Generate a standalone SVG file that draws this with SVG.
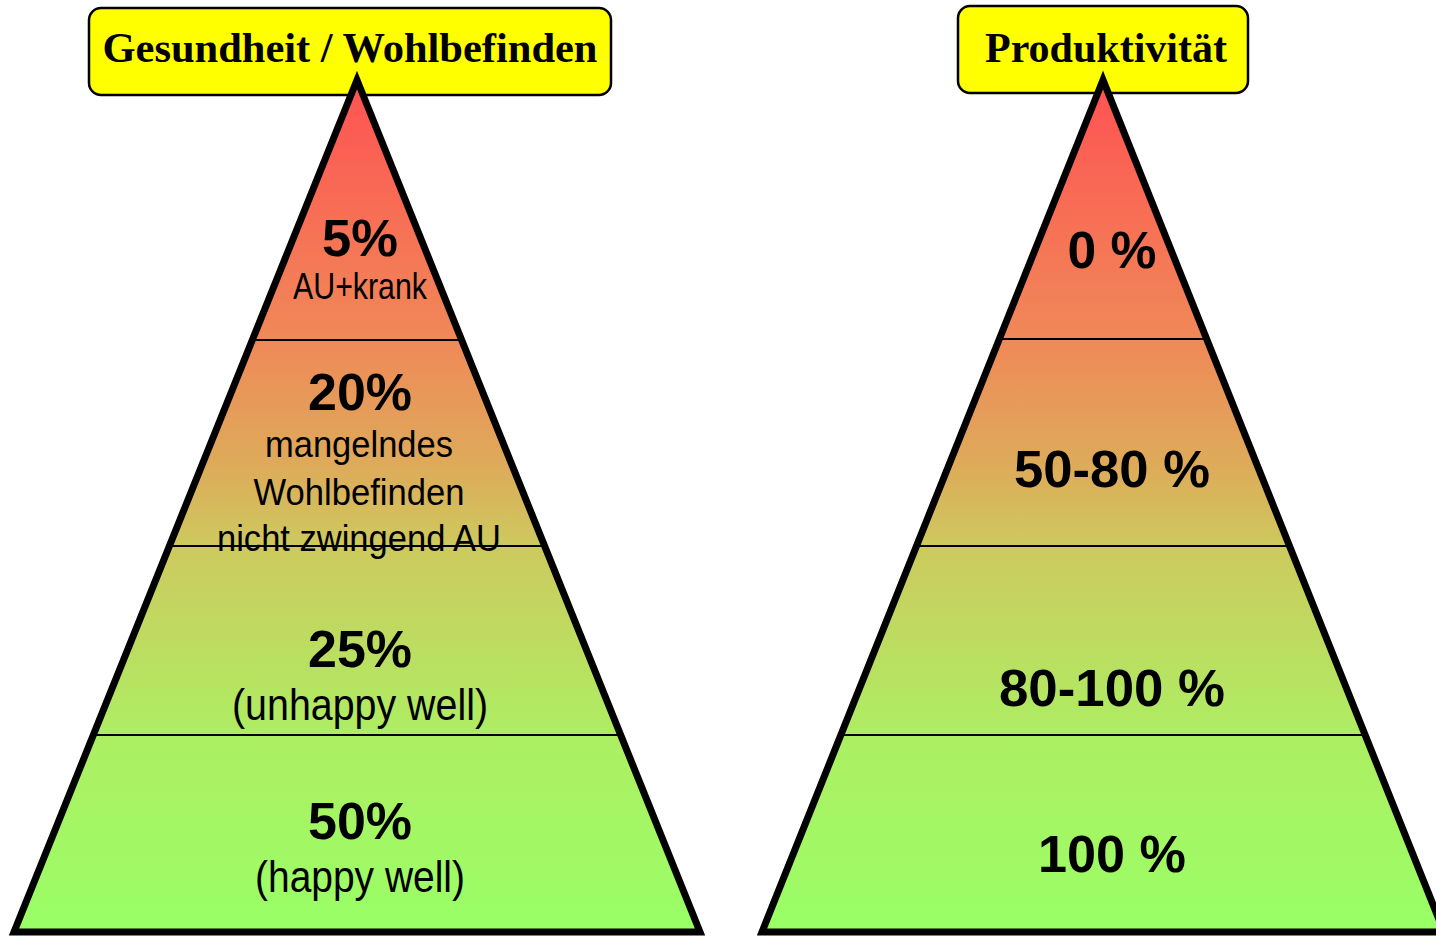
<svg xmlns="http://www.w3.org/2000/svg" width="1436" height="936" viewBox="0 0 1436 936">
<defs>
<linearGradient id="grad" gradientUnits="userSpaceOnUse" x1="0" y1="80" x2="0" y2="932">
<stop offset="0" stop-color="#FF5252"/>
<stop offset="0.3" stop-color="#F08858"/>
<stop offset="0.45" stop-color="#DEAA5A"/>
<stop offset="0.55" stop-color="#CDCA5E"/>
<stop offset="0.77" stop-color="#ADEE63"/>
<stop offset="1" stop-color="#99FF66"/>
</linearGradient>
<clipPath id="clipL"><polygon points="357,80 14,932 700,932"/></clipPath>
<clipPath id="clipR"><polygon points="1103,80 762,932 1444,932"/></clipPath>
<style>
.box{fill:#FFFF00;stroke:#000;stroke-width:2.5}
.title{font-family:"Liberation Serif","Times New Roman",serif;font-weight:bold;font-size:42px;text-anchor:middle;fill:#000}
.pyr{fill:url(#grad)}
.edge{fill:none;stroke:#000;stroke-width:7;stroke-linejoin:miter;stroke-miterlimit:10}
.div{stroke:#000;stroke-width:2.2}
.big{font-family:"Liberation Sans",Arial,sans-serif;font-weight:bold;font-size:52px;text-anchor:middle;fill:#000}
.small{font-family:"Liberation Sans Narrow","Liberation Sans",Arial,sans-serif;text-anchor:middle;fill:#000}
</style>
</defs>

<g id="title-left">
<rect class="box" x="89" y="8" width="522" height="87" rx="12"/>
<text class="title" x="350" y="62" textLength="495" lengthAdjust="spacingAndGlyphs">Gesundheit / Wohlbefinden</text>
</g>
<g id="title-right">
<rect class="box" x="958" y="6" width="290" height="87" rx="12"/>
<text class="title" x="1106" y="62" textLength="242" lengthAdjust="spacingAndGlyphs">Produktivität</text>
</g>

<g id="pyramid-left">
<polygon class="pyr" points="357,80 14,932 700,932"/>
<g clip-path="url(#clipL)">
<line class="div" x1="0" y1="340" x2="720" y2="340"/>
<line class="div" x1="0" y1="546" x2="720" y2="546"/>
<line class="div" x1="0" y1="735" x2="720" y2="735"/>
</g>
<g id="level-l1">
<text class="big" x="360" y="256" textLength="76" lengthAdjust="spacingAndGlyphs">5%</text>
<text class="small" x="360" y="299" font-size="36" textLength="134" lengthAdjust="spacingAndGlyphs">AU+krank</text>
</g>
<g id="level-l2">
<text class="big" x="360" y="410" textLength="104" lengthAdjust="spacingAndGlyphs">20%</text>
<text class="small" x="359" y="457" font-size="36" textLength="188" lengthAdjust="spacingAndGlyphs">mangelndes</text>
<text class="small" x="359" y="505" font-size="36" textLength="211" lengthAdjust="spacingAndGlyphs">Wohlbefinden</text>
<text class="small" x="359" y="551" font-size="36" textLength="284" lengthAdjust="spacingAndGlyphs">nicht zwingend AU</text>
</g>
<g id="level-l3">
<text class="big" x="360" y="667" textLength="104" lengthAdjust="spacingAndGlyphs">25%</text>
<text class="small" x="360" y="720" font-size="44" textLength="256" lengthAdjust="spacingAndGlyphs">(unhappy well)</text>
</g>
<g id="level-l4">
<text class="big" x="360" y="839" textLength="104" lengthAdjust="spacingAndGlyphs">50%</text>
<text class="small" x="360" y="892" font-size="45" textLength="210" lengthAdjust="spacingAndGlyphs">(happy well)</text>
</g>
<polygon class="edge" points="357,80 14,932 700,932"/>
</g>

<g id="pyramid-right">
<polygon class="pyr" points="1103,80 762,932 1444,932"/>
<g clip-path="url(#clipR)">
<line class="div" x1="740" y1="339" x2="1436" y2="339"/>
<line class="div" x1="740" y1="546" x2="1436" y2="546"/>
<line class="div" x1="740" y1="735" x2="1436" y2="735"/>
</g>
<g id="level-r1"><text class="big" x="1112" y="268" textLength="89" lengthAdjust="spacingAndGlyphs">0 %</text></g>
<g id="level-r2"><text class="big" x="1112" y="487" textLength="196" lengthAdjust="spacingAndGlyphs">50-80 %</text></g>
<g id="level-r3"><text class="big" x="1112" y="706" textLength="226" lengthAdjust="spacingAndGlyphs">80-100 %</text></g>
<g id="level-r4"><text class="big" x="1112" y="872" textLength="148" lengthAdjust="spacingAndGlyphs">100 %</text></g>
<polygon class="edge" points="1103,80 762,932 1444,932"/>
</g>
</svg>
